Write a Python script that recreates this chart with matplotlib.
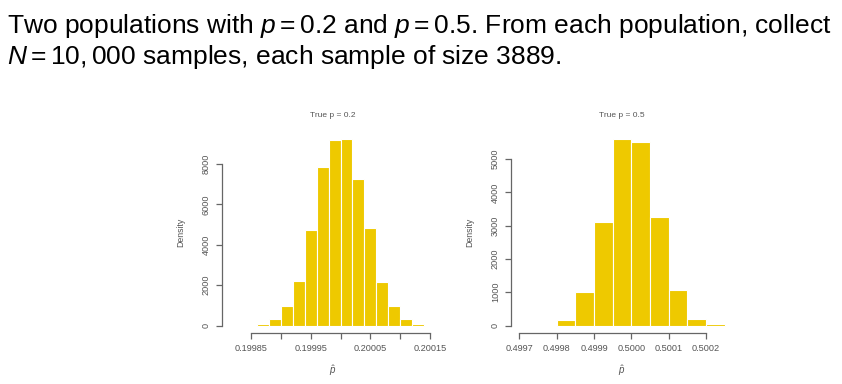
import numpy as np
import matplotlib
matplotlib.use("Agg")
import matplotlib.pyplot as plt

# histogram breaks and densities
breaks_02 = [0.19986, 0.19988, 0.19990, 0.19992, 0.19994, 0.19996, 0.19998, 0.20000,
             0.20002, 0.20004, 0.20006, 0.20008, 0.20010, 0.20012, 0.20014]
density_02 = [66, 300, 960, 2215, 4710, 7850, 9190, 9270, 7270, 4840, 2150, 960, 315, 66]
xticks_02 = [0.19985, 0.19990, 0.19995, 0.20000, 0.20005, 0.20010, 0.20015]
xlabels_02 = ['0.19985', '', '0.19995', '', '0.20005', '', '0.20015']
yticks_02 = [0, 2000, 4000, 6000, 8000]

breaks_05 = [0.49980, 0.49985, 0.49990, 0.49995, 0.50000, 0.50005, 0.50010, 0.50015,
             0.50020, 0.50025]
density_05 = [180, 994, 3110, 5620, 5500, 3250, 1074, 200, 40]
xticks_05 = [0.4997, 0.4998, 0.4999, 0.5000, 0.5001, 0.5002]
xlabels_05 = ['0.4997', '0.4998', '0.4999', '0.5000', '0.5001', '0.5002']
yticks_05 = [0, 1000, 2000, 3000, 4000, 5000]

BAR = '#EEC900'
INK = '#555555'
LINE = '#666666'

plt.rcParams['font.family'] = 'Liberation Sans'
plt.rcParams['mathtext.fontset'] = 'custom'
plt.rcParams['mathtext.rm'] = 'Liberation Sans'
plt.rcParams['mathtext.it'] = 'Liberation Sans:italic'

fig = plt.figure(figsize=(8.42, 3.84), dpi=100)

fig.text(0.008, 0.915, r'Two populations with $p = 0.2$ and $p = 0.5$. From each population, collect',
         fontsize=19, color='black')
fig.text(0.008, 0.833, r'$N = 10,000$ samples, each sample of size 3889.',
         fontsize=19, color='black')


def r_hist(ax, breaks, dens, xticks, xlabels, yticks, xlim, title):
    breaks = np.array(breaks)
    ax.bar(breaks[:-1], dens, width=np.diff(breaks), align='edge',
           color=BAR, edgecolor='white', linewidth=0.8)
    top = max(dens)
    ax.set_ylim(-0.04 * top, 1.04 * top)
    ax.set_xlim(*xlim)
    for s in ['top', 'right']:
        ax.spines[s].set_visible(False)
    ax.spines['left'].set_bounds(yticks[0], yticks[-1])
    ax.spines['bottom'].set_bounds(xticks[0], xticks[-1])
    for s in ['left', 'bottom']:
        ax.spines[s].set_color(LINE)
        ax.spines[s].set_linewidth(0.9)
    ax.set_xticks(xticks)
    ax.set_xticklabels(xlabels)
    ax.set_yticks(yticks)
    ax.set_yticklabels([str(v) for v in yticks], rotation=90, va='center')
    ax.tick_params(labelsize=6.6, labelcolor=INK, color=LINE, length=4, width=0.9, pad=4)
    ax.set_title(title, fontsize=6, color=INK, pad=10)
    ax.set_ylabel('Density', fontsize=6.3, color=INK, labelpad=12)
    ax.set_xlabel(r'$\hat{p}$', fontsize=7, color=INK, labelpad=7)


ax1 = fig.add_axes([0.2637, 0.1328, 0.2637, 0.526])
r_hist(ax1, breaks_02, density_02, xticks_02, xlabels_02, yticks_02,
       (0.1998014, 0.2001735), 'True p = 0.2')

ax2 = fig.add_axes([0.6069, 0.1328, 0.2637, 0.526])
r_hist(ax2, breaks_05, density_05, xticks_05, xlabels_05, yticks_05,
       (0.4996778, 0.5002723), 'True p = 0.5')

fig.savefig('out.png', dpi=100)
